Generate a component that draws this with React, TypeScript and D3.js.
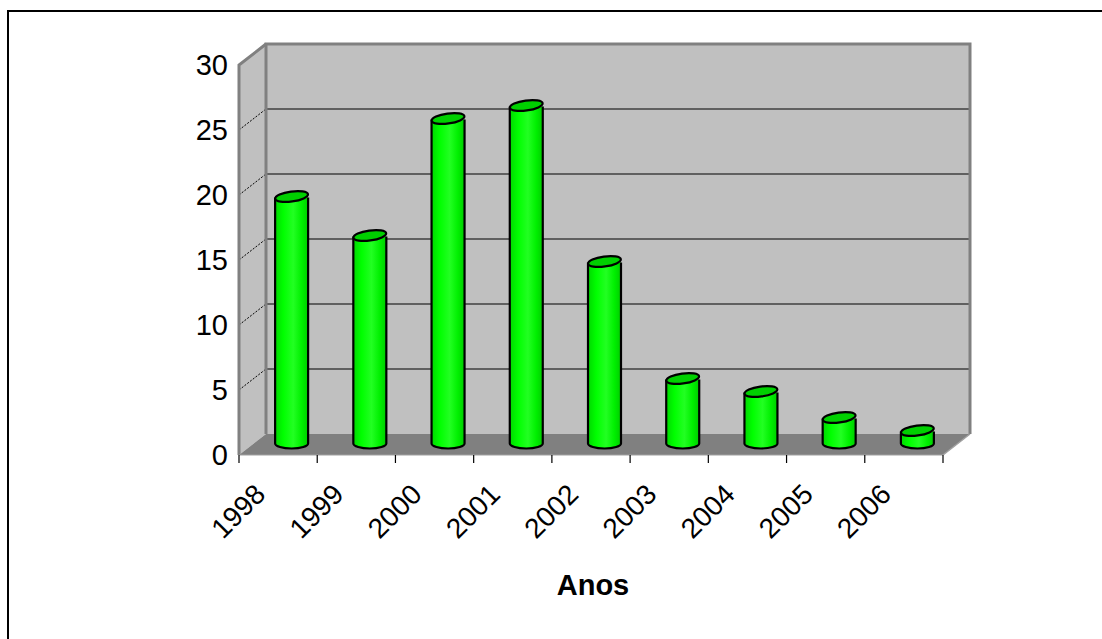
import * as d3 from "d3";
import React, { useEffect, useRef } from "react";

// data
const years = ["1998", "1999", "2000", "2001", "2002", "2003", "2004", "2005", "2006"];
const counts = [19, 16, 25, 26, 14, 5, 4, 2, 1];
const yTicks = [0, 5, 10, 15, 20, 25, 30];
const xTitle = "Anos";

const App = () => {
    const svgRef = useRef<SVGSVGElement | null>(null);

    const width = 1102;
    const height = 639;
    const left = 239;
    const right = 943;
    const floorY = 455;
    const topY = 65;
    const depthX = 27;
    const depthY = -21;
    const font = "'Liberation Sans', Arial, sans-serif";

    useEffect(() => {
        const svg = d3.select(svgRef.current);
        svg.selectAll("*").remove();

        const xScale = d3.scaleBand<string>().domain(years).range([left, right]);
        const yScale = d3.scaleLinear().domain([0, 30]).range([floorY, topY]);
        const bw = xScale.bandwidth();

        const defs = svg.append("defs");
        const grad = defs.append("linearGradient").attr("id", "barGrad")
            .attr("x1", "0%").attr("x2", "100%").attr("y1", "0%").attr("y2", "0%");
        grad.append("stop").attr("offset", "0%").attr("stop-color", "#00d800");
        grad.append("stop").attr("offset", "25%").attr("stop-color", "#00ff00");
        grad.append("stop").attr("offset", "55%").attr("stop-color", "#22ff22");
        grad.append("stop").attr("offset", "80%").attr("stop-color", "#00f000");
        grad.append("stop").attr("offset", "100%").attr("stop-color", "#00cc00");

        // outer frame (top and left only visible)
        svg.append("path")
            .attr("d", `M8,${height} L8,11 L${width},11`)
            .attr("fill", "none").attr("stroke", "#000").attr("stroke-width", 2);

        const y30 = yScale(30);
        // back wall
        svg.append("rect")
            .attr("x", left + depthX).attr("y", y30 + depthY)
            .attr("width", right - left).attr("height", floorY - y30)
            .attr("fill", "#c0c0c0");
        // side wall
        svg.append("path")
            .attr("d", `M${left},${floorY} L${left},${y30} L${left + depthX},${y30 + depthY} L${left + depthX},${floorY + depthY} Z`)
            .attr("fill", "#c0c0c0");

        // gridlines
        yTicks.filter((t) => t > 0 && t < 30).forEach((t) => {
            const y = yScale(t);
            svg.append("line")
                .attr("x1", left + depthX).attr("x2", right + depthX)
                .attr("y1", y + depthY).attr("y2", y + depthY)
                .attr("stroke", "#000").attr("stroke-width", 1.2);
            svg.append("line")
                .attr("x1", left).attr("x2", left + depthX)
                .attr("y1", y).attr("y2", y + depthY)
                .attr("stroke", "#000").attr("stroke-width", 1).attr("stroke-dasharray", "2,1.5");
        });

        // floor
        svg.append("path")
            .attr("d", `M${left},${floorY} L${right},${floorY} L${right + depthX},${floorY + depthY} L${left + depthX},${floorY + depthY} Z`)
            .attr("fill", "#808080");

        // wall edges
        svg.append("path")
            .attr("d", `M${left + depthX},${floorY + depthY} L${left + depthX},${y30 + depthY} L${right + depthX},${y30 + depthY} L${right + depthX},${floorY + depthY}`)
            .attr("fill", "none").attr("stroke", "#808080").attr("stroke-width", 3);
        svg.append("path")
            .attr("d", `M${left},${floorY} L${left},${y30} L${left + depthX},${y30 + depthY}`)
            .attr("fill", "none").attr("stroke", "#808080").attr("stroke-width", 3);
        svg.append("line")
            .attr("x1", right).attr("y1", floorY).attr("x2", right + depthX).attr("y2", floorY + depthY)
            .attr("stroke", "#a0a0a0").attr("stroke-width", 1.5);

        // axis line and ticks
        const ticks = years.map((y) => xScale(y) as number).concat([right]);
        svg.append("line")
            .attr("x1", left).attr("x2", right).attr("y1", floorY).attr("y2", floorY)
            .attr("stroke", "#a0a0a0").attr("stroke-width", 1);
        svg.selectAll("line.tick").data(ticks).enter().append("line")
            .attr("x1", (d) => d).attr("x2", (d) => d)
            .attr("y1", floorY).attr("y2", floorY + 8)
            .attr("stroke", "#000").attr("stroke-width", 1.2);

        // cylinders
        const rx = 16.5;
        const ry = 5;
        const g = svg.append("g");
        years.forEach((yr, i) => {
            const cx = (xScale(yr) as number) + bw / 2 + depthX / 2;
            const yb = floorY + depthY / 2 - 1;
            const yt = yScale(counts[i]) + depthY / 2;
            g.append("path")
                .attr("d", `M${cx - rx},${yt} L${cx - rx},${yb} A${rx},${ry} 0 0 0 ${cx + rx},${yb} L${cx + rx},${yt}`)
                .attr("fill", "url(#barGrad)")
                .attr("stroke", "#000").attr("stroke-width", 2.2);
            g.append("ellipse")
                .attr("cx", cx).attr("cy", yt - 1)
                .attr("rx", rx).attr("ry", ry)
                .attr("transform", `rotate(-8 ${cx} ${yt - 1})`)
                .attr("fill", "#00d000")
                .attr("stroke", "#000").attr("stroke-width", 2.2);
        });

        // y labels
        svg.selectAll("text.ylab").data(yTicks).enter().append("text")
            .attr("x", 228).attr("y", (d) => yScale(d) + 10)
            .attr("text-anchor", "end")
            .style("font", `29px ${font}`)
            .attr("fill", "#000")
            .text((d) => d);

        // x labels
        svg.selectAll("text.xlab").data(years).enter().append("text")
            .attr("transform", (d) => `translate(${(xScale(d) as number) + bw / 2 - 11},${floorY + 41}) rotate(-45)`)
            .attr("text-anchor", "end")
            .style("font", `28px ${font}`)
            .attr("fill", "#000")
            .text((d) => d);

        svg.append("text")
            .attr("x", 593).attr("y", 595)
            .attr("text-anchor", "middle")
            .style("font", `bold 29px ${font}`)
            .attr("fill", "#000")
            .text(xTitle);
    }, []);

    return (
        <svg ref={svgRef} width={width} height={height}
            style={{ position: "absolute", left: 0, top: 0, background: "#fff" }} />
    );
};

export default App;
